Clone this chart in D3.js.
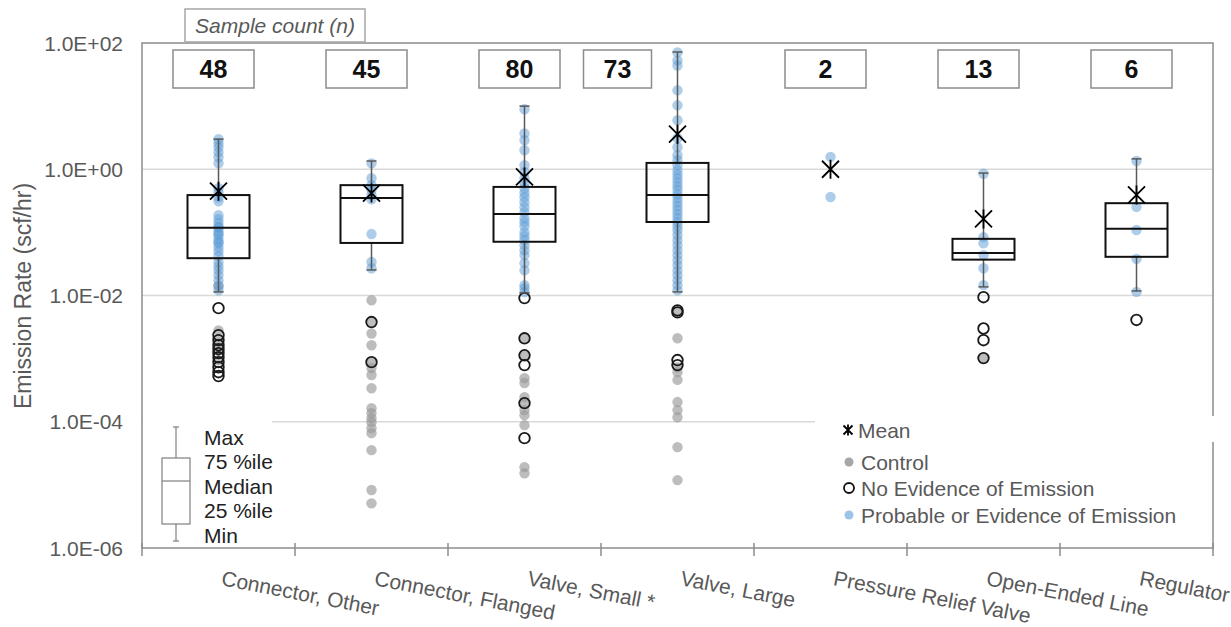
<!DOCTYPE html>
<html><head><meta charset="utf-8">
<script src="https://cdn.jsdelivr.net/npm/d3@7"></script>
<style>body{margin:0;background:#fff}svg{display:block;font-family:"Liberation Sans",Arial,sans-serif}</style>
</head><body><svg id="c" width="1231" height="627"></svg>
<script>
const categories = ["Connector, Other","Connector, Flanged","Valve, Small *","Valve, Large","Pressure Relief Valve","Open-Ended Line","Regulator"];
const sampleCounts = [48,45,80,73,2,13,6];
const whiskerMax = [3.0,1.35,10,72,null,0.87,1.46];
const q3 = [0.39,0.56,0.525,1.26,null,0.079,0.29];
const medians = [0.118,0.35,0.196,0.39,null,0.047,0.114];
const q1 = [0.039,0.068,0.071,0.146,null,0.037,0.041];
const whiskerMin = [0.0114,0.0254,0.011,0.0114,null,0.0137,0.0118];
const means = [0.45,0.42,0.755,3.6,1.0,0.163,0.392];
const yTicks = [1e2,1,1e-2,1e-4,1e-6];
const yTickLabels = ["1.0E+02","1.0E+00","1.0E-02","1.0E-04","1.0E-06"];
const boxKeyLabels = ["Max","75 %ile","Median","25 %ile","Min"];
const legendLabels = ["Mean","Control","No Evidence of Emission","Probable or Evidence of Emission"];

const probable = [
  [2.99,2.58,2.23,1.86,1.55,1.24,0.50,0.43,0.36,0.31,0.187,0.161,0.14,0.121,0.12,0.104,0.095,0.09,0.078,0.07,0.067,0.058,0.05,0.042,0.034,0.029,0.025,0.021,0.0175,0.0146,0.0121],
  [1.24,0.72,0.56,0.47,0.39,0.335,0.094,0.034,0.027],
  [8.9,3.7,2.88,2.0,1.16,0.9,0.72,0.6,0.5,0.42,0.36,0.3,0.25,0.208,0.167,0.145,0.125,0.1,0.087,0.075,0.0626,0.052,0.0435,0.0325,0.025,0.0146,0.013,0.0113],
  [71,53,44,17.8,10.3,5.97,3.1,2.23,1.67,1.39,1.16,0.964,0.83,0.72,0.62,0.54,0.47,0.4,0.35,0.3,0.26,0.224,0.194,0.167,0.145,0.125,0.108,0.09,0.075,0.0626,0.052,0.0435,0.0362,0.0302,0.025,0.021,0.0175,0.0146,0.0121],
  [1.57,0.364],
  [0.85,0.084,0.067,0.0435,0.027,0.0146],
  [1.35,0.253,0.109,0.038,0.0114]
];
const control = [
  [0.014,0.0028,0.00196,0.00136,0.00094],
  [0.0084,0.0038,0.0025,0.00163,0.00088,0.00071,0.00055,0.00034,0.000164,0.000137,0.000114,0.0000986,0.0000792,0.0000659,0.0000355,0.0000083,0.0000051],
  [0.0021,0.00113,0.00049,0.00041,0.000245,0.000197,0.000153,0.000127,0.0000883,0.0000191,0.0000153],
  [0.0056,0.0021,0.00073,0.00061,0.00046,0.000205,0.000153,0.000118,0.0000396,0.0000119],
  [],
  [0.00102],
  []
];
const noEvidence = [
  [0.0063,0.00235,0.00196,0.00163,0.00141,0.00122,0.00105,0.00088,0.00073,0.00061,0.00053],
  [0.0038,0.00088],
  [0.0091,0.0021,0.00113,0.00079,0.000197,0.000055],
  [0.0058,0.0054,0.00095,0.00079],
  [],
  [0.0094,0.003,0.00196,0.00102],
  [0.0041]
];

const svg = d3.select("#c");
const pL = 142, pR = 1213, pT = 43, pB = 548;
const y = d3.scaleLog().domain([1e-6,1e2]).range([pB, pT]);
const x = d3.scaleBand().domain(categories).range([pL, pR]);
const cx = c => x(c) + x.bandwidth()/2;
const TXT = "#595959";

// gridlines
svg.append("g").selectAll("line").data([1,1e-2,1e-4]).join("line")
  .attr("x1", pL).attr("x2", pR).attr("y1", d=>y(d)).attr("y2", d=>y(d))
  .attr("stroke","#d9d9d9").attr("stroke-width",1.5);

// frame
svg.append("rect").attr("x",pL).attr("y",pT).attr("width",pR-pL).attr("height",pB-pT)
  .attr("fill","none").attr("stroke","#8c8c8c").attr("stroke-width",1.5);

// x ticks
const tickXs = d3.range(categories.length+1).map(i => pL + i*x.step());
svg.append("g").selectAll("line").data(tickXs).join("line")
  .attr("x1",d=>d).attr("x2",d=>d).attr("y1",pB-5).attr("y2",pB+8)
  .attr("stroke","#8c8c8c").attr("stroke-width",1.5);

// y tick labels
svg.append("g").selectAll("text").data(yTicks).join("text")
  .attr("x",123).attr("y",d=>y(d)).attr("dy","0.36em").attr("text-anchor","end")
  .attr("font-size",21).attr("fill",TXT).text((d,i)=>yTickLabels[i]);

// y title
svg.append("text").attr("transform","translate(31,296) rotate(-90)").attr("text-anchor","middle")
  .attr("font-size",23).attr("fill",TXT).text("Emission Rate (scf/hr)");

// x labels
svg.append("g").selectAll("text").data(categories).join("text")
  .attr("transform", d => `translate(${cx(d)+2},${585}) rotate(11)`)
  .attr("font-size",21).attr("fill",TXT).text(d=>d);

// points
const ptG = svg.append("g");
categories.forEach((c,i)=>{
  ptG.append("g").selectAll("circle").data(control[i]).join("circle")
    .attr("cx",cx(c)).attr("cy",d=>y(d)).attr("r",5.2)
    .attr("fill","#9a9a9a").attr("fill-opacity",0.65);
  ptG.append("g").selectAll("circle").data(probable[i]).join("circle")
    .attr("cx",cx(c)).attr("cy",d=>y(d)).attr("r",5.2)
    .attr("fill","#5b9bd5").attr("fill-opacity",0.5);
  ptG.append("g").selectAll("circle").data(noEvidence[i]).join("circle")
    .attr("cx",cx(c)).attr("cy",d=>y(d)).attr("r",5.3)
    .attr("fill","none").attr("stroke","#1a1a1a").attr("stroke-width",1.8);
});

// boxes & whiskers
const boxW = 62;
categories.forEach((c,i)=>{
  if (q1[i]==null) return;
  const g = svg.append("g"), X = cx(c);
  g.append("line").attr("x1",X).attr("x2",X).attr("y1",y(q3[i])).attr("y2",y(whiskerMax[i])).attr("stroke","#595959").attr("stroke-width",1.5);
  g.append("line").attr("x1",X).attr("x2",X).attr("y1",y(q1[i])).attr("y2",y(whiskerMin[i])).attr("stroke","#595959").attr("stroke-width",1.5);
  [whiskerMax[i],whiskerMin[i]].forEach(v=>g.append("line").attr("x1",X-5).attr("x2",X+5).attr("y1",y(v)).attr("y2",y(v)).attr("stroke","#595959").attr("stroke-width",1.5));
  g.append("rect").attr("x",X-boxW/2).attr("y",y(q3[i])).attr("width",boxW).attr("height",y(q1[i])-y(q3[i]))
    .attr("fill","none").attr("stroke","#111").attr("stroke-width",2);
  g.append("line").attr("x1",X-boxW/2).attr("x2",X+boxW/2).attr("y1",y(medians[i])).attr("y2",y(medians[i])).attr("stroke","#111").attr("stroke-width",2);
});

// mean markers
function star(g, X, Y, s, w){
  g.append("path").attr("d",`M${X-s},${Y-s}L${X+s},${Y+s}M${X-s},${Y+s}L${X+s},${Y-s}M${X},${Y-s-1}L${X},${Y+s+1}`)
   .attr("stroke","#000").attr("stroke-width",w).attr("fill","none");
}
const mg = svg.append("g");
categories.forEach((c,i)=> star(mg, cx(c), y(means[i]), 8.5, 1.8));

// count boxes
svg.append("rect").attr("x",185).attr("y",9).attr("width",180).attr("height",33).attr("fill","#fff").attr("stroke","#a6a6a6").attr("stroke-width",1.5);
svg.append("text").attr("x",275).attr("y",33).attr("text-anchor","middle").attr("font-size",21).attr("font-style","italic").attr("fill",TXT).text("Sample count (n)");
categories.forEach((c,i)=>{
  const special = c==="Valve, Large";
  const w = special ? 68 : 81;
  const X = special ? cx(c)-60 : cx(c)-5;
  svg.append("rect").attr("x",X-w/2).attr("y",50).attr("width",w).attr("height",38).attr("fill","#fff").attr("stroke","#8c8c8c").attr("stroke-width",1.5);
  svg.append("text").attr("x",X).attr("y",78).attr("text-anchor","middle").attr("font-size",25).attr("font-weight","bold").attr("fill","#111").text(sampleCounts[i]);
});

// left key (box explanation)
svg.append("rect").attr("x",pL+1).attr("y",414).attr("width",129).attr("height",16).attr("fill","#fff");
const kg = svg.append("g").attr("stroke","#7f7f7f").attr("stroke-width",1.2).attr("fill","none");
kg.append("line").attr("x1",176).attr("x2",176).attr("y1",427).attr("y2",458);
kg.append("line").attr("x1",176).attr("x2",176).attr("y1",524).attr("y2",541);
kg.append("line").attr("x1",173).attr("x2",179).attr("y1",427).attr("y2",427);
kg.append("line").attr("x1",173).attr("x2",179).attr("y1",541).attr("y2",541);
kg.append("rect").attr("x",162).attr("y",458).attr("width",28).attr("height",66);
kg.append("line").attr("x1",162).attr("x2",190).attr("y1",481).attr("y2",481);
svg.append("g").selectAll("text").data(boxKeyLabels).join("text")
  .attr("x",204).attr("y",(d,i)=>444.5+i*24.5).attr("font-size",21).attr("fill","#222").text(d=>d);

// right legend
svg.append("rect").attr("x",815).attr("y",416).attr("width",405).attr("height",26).attr("fill","#fff");
const lg = svg.append("g");
star(lg, 848, 430, 4.5, 1.8);
lg.append("circle").attr("cx",849).attr("cy",462).attr("r",4.5).attr("fill","#a6a6a6");
lg.append("circle").attr("cx",849).attr("cy",488).attr("r",5).attr("fill","none").attr("stroke","#111").attr("stroke-width",1.8);
lg.append("circle").attr("cx",849).attr("cy",515).attr("r",4.5).attr("fill","#9dc3e6");
lg.selectAll("text").data(legendLabels).join("text")
  .attr("x",(d,i)=> i===0?858:861).attr("y",(d,i)=>[438,469.5,495.5,522.5][i]).attr("font-size",21).attr("fill",TXT).text(d=>d);
</script></body></html>
